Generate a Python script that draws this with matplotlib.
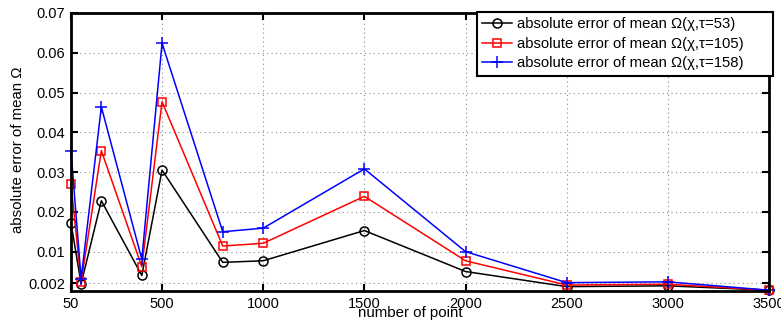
import matplotlib
matplotlib.use("Agg")
import matplotlib.pyplot as plt

# ── data ──────────────────────────────────────────────────
n_points   = [50, 100, 200, 400, 500, 800, 1000, 1500, 2000, 2500, 3000, 3500]
err_tau53  = [0.0172, 0.0019, 0.0228, 0.0040, 0.0305, 0.0073, 0.0077, 0.0153, 0.0050, 0.0012, 0.0014, 0.0003]
err_tau105 = [0.0270, 0.0024, 0.0354, 0.0062, 0.0477, 0.0114, 0.0121, 0.0239, 0.0077, 0.0016, 0.0018, 0.0003]
err_tau158 = [0.0352, 0.0032, 0.0464, 0.0081, 0.0624, 0.0150, 0.0159, 0.0308, 0.0100, 0.0022, 0.0024, 0.0003]

x_ticks = [50, 500, 1000, 1500, 2000, 2500, 3000, 3500]
y_ticks = [0.002, 0.01, 0.02, 0.03, 0.04, 0.05, 0.06, 0.07]
y_labels = ["0.002", "0.01", "0.02", "0.03", "0.04", "0.05", "0.06", "0.07"]

# ── style ─────────────────────────────────────────────────
plt.rcParams["font.family"] = ["Liberation Sans", "DejaVu Sans"]
plt.rcParams["font.size"] = 10

fig = plt.figure(figsize=(7.81, 3.24), dpi=100)
ax = fig.add_axes([71/781, 1 - 291/324, (769 - 71)/781, (291 - 13)/324])

ax.plot(n_points, err_tau53, color="black", marker="o", markersize=6.5,
        markerfacecolor="none", linewidth=1.1, markeredgewidth=1.1, clip_on=False,
        label="absolute error of mean \u03a9(\u03c7,\u03c4=53)")
ax.plot(n_points, err_tau105, color="red", marker="s", markersize=5.5,
        markerfacecolor="none", linewidth=1.1, markeredgewidth=1.1, clip_on=False,
        label="absolute error of mean \u03a9(\u03c7,\u03c4=105)")
ax.plot(n_points, err_tau158, color="blue", marker="+", markersize=8,
        linewidth=1.1, markeredgewidth=1.1, clip_on=False,
        label="absolute error of mean \u03a9(\u03c7,\u03c4=158)")

ax.set_xlim(50, 3500)
ax.set_ylim(0.0001, 0.07)
ax.set_xticks(x_ticks)
ax.set_yticks(y_ticks)
ax.set_yticklabels(y_labels)
ax.tick_params(direction="in", length=5, width=1.5, top=True, right=True,
               labelsize=10.5, pad=4)
for s in ax.spines.values():
    s.set_linewidth(2)
ax.grid(True, linestyle=(0, (1, 3)), color="#888888", linewidth=0.8)

fig.text(410/781, 1 - 313/324, "number of point", ha="center", va="center", fontsize=10.8)
fig.text(18/781, 1 - 150/324, "absolute error of mean \u03a9", ha="center", va="center",
         rotation=90, fontsize=10.8)

leg = ax.legend(loc="upper left", mode="expand",
                bbox_to_anchor=(477/781, 1 - 78/324, 296/781, 66/324),
                bbox_transform=fig.transFigure, fancybox=False, framealpha=1,
                edgecolor="black", fontsize=10.7, borderpad=0.35, labelspacing=0.38,
                handlelength=2.0, handletextpad=0.35, borderaxespad=0)
leg.get_frame().set_linewidth(1.5)

fig.savefig("out.png", dpi=100)
